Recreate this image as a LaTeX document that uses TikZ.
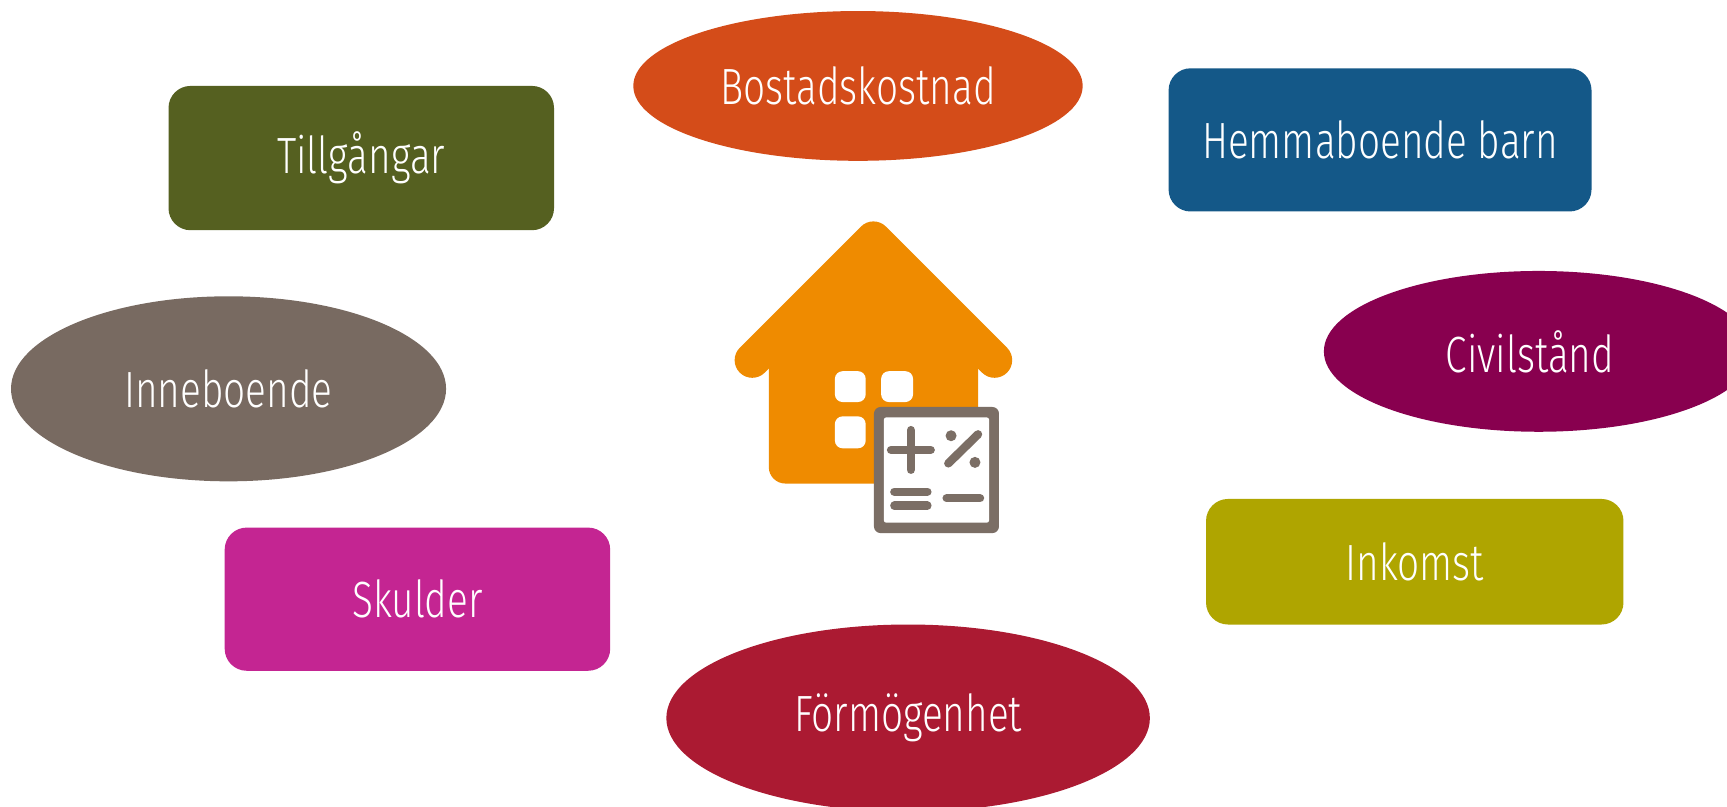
\documentclass[tikz,border=0pt]{standalone}
\usepackage{fontspec}
\setmainfont{Fira Sans Light}[FakeStretch=0.76]
\usetikzlibrary{shapes.geometric}
\definecolor{cBost}{HTML}{D44C19}
\definecolor{cTill}{HTML}{556020}
\definecolor{cHemm}{HTML}{145888}
\definecolor{cCivil}{HTML}{88004F}
\definecolor{cInne}{HTML}{786A61}
\definecolor{cSkul}{HTML}{C42592}
\definecolor{cInko}{HTML}{AFA500}
\definecolor{cForm}{HTML}{AB1A32}
\definecolor{cHouse}{HTML}{EF8B00}
\definecolor{cCalc}{HTML}{7B6E65}
\def\PX{0.011014cm}
\tikzset{
  lbl/.style={text=white, inner sep=0pt, font=\fontsize{14.5}{17}\selectfont},
  oval/.style={lbl, ellipse, draw=none, fill=#1},
  tag/.style={lbl, rectangle, rounded corners=0.22cm, draw=none, fill=#1},
  sym/.style={cCalc, line width=7.6*\PX, line cap=round},
}
\begin{document}
\begin{tikzpicture}[x=\PX, y=-\PX]
\useasboundingbox (0,0) rectangle (1568,732);
\clip (0,0) rectangle (1568,732);
\fill[white] (0,0) rectangle (1568,732);

% ovals
\node[oval=cBost, minimum width=408*\PX, minimum height=136*\PX] (bost) at (779,78) {Bostadskostnad};
\node[oval=cCivil, minimum width=390*\PX, minimum height=146*\PX] (civil) at (1397,319) {\hspace*{-5pt}Civilstånd};
\node[oval=cInne, minimum width=395*\PX, minimum height=168*\PX] (inne) at (207.5,353) {Inneboende};
\node[oval=cForm, minimum width=439*\PX, minimum height=170*\PX] (form) at (824.5,652) {Förmögenhet};

% boxes
\node[tag=cTill, minimum width=350*\PX, minimum height=131*\PX] (till) at (328,143.5) {Tillgångar};
\node[tag=cHemm, minimum width=384*\PX, minimum height=130*\PX] (hemm) at (1253,127) {Hemmaboende barn};
\node[tag=cSkul, minimum width=350*\PX, minimum height=130*\PX] (skul) at (379,544) {Skulder};
\node[tag=cInko, minimum width=379*\PX, minimum height=114*\PX] (inko) at (1284.5,510) {Inkomst};

% house icon
\fill[cHouse] (683,327) -- (793,217) -- (903,327) -- cycle;
\draw[cHouse, line width=32*\PX, line cap=round, line join=round] (683,327) -- (793,217) -- (903,327);
\fill[cHouse, rounded corners=15*\PX] (698,300) -- (698,439) -- (888,439) -- (888,300) -- cycle;
\fill[cHouse] (698,300) rectangle (888,330);
\fill[white, rounded corners=7*\PX] (758,337) rectangle (786,365);
\fill[white, rounded corners=7*\PX] (800,337) rectangle (829,365);
\fill[white, rounded corners=7*\PX] (758,378) rectangle (786,407);

% calculator
\fill[cCalc, rounded corners=6*\PX] (793.5,369.5) rectangle (907,484);
\fill[white, rounded corners=2*\PX] (802.5,379) rectangle (898,474.5);
\draw[sym] (809,408.5) -- (845,408.5);
\draw[sym] (827,390.5) -- (827,426.5);
\fill[cCalc] (863.5,395.6) circle[radius=5*\PX];
\fill[cCalc] (885.2,419.8) circle[radius=5*\PX];
\draw[sym] (861,420.7) -- (888,394.3);
\draw[sym] (812,446.4) -- (842,446.4);
\draw[sym] (812,459.1) -- (842,459.1);
\draw[sym] (859.5,452.4) -- (889.8,452.4);
\end{tikzpicture}
\end{document}
